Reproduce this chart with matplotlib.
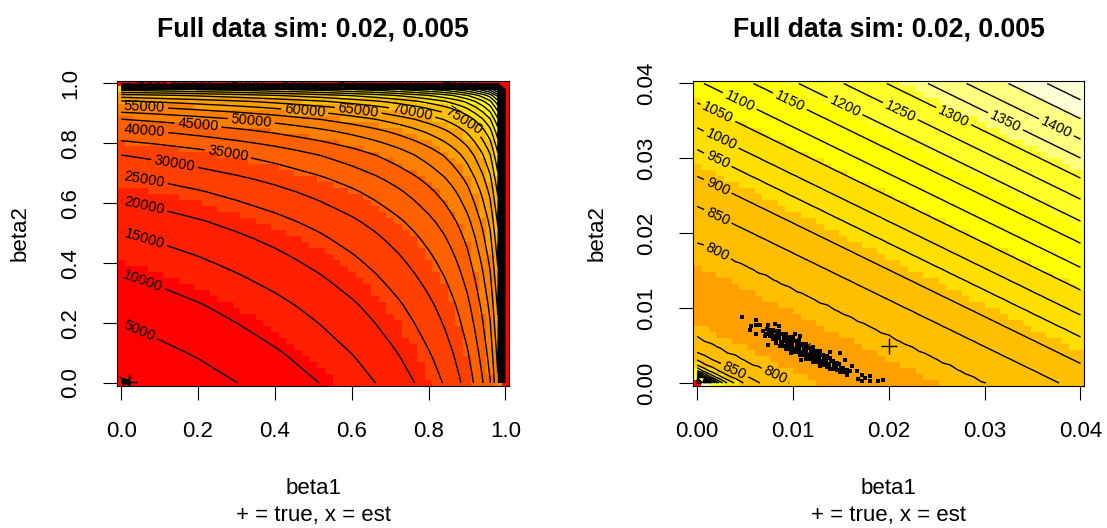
import numpy as np
import matplotlib
matplotlib.use("Agg")
import matplotlib.pyplot as plt
from matplotlib.colors import ListedColormap, BoundaryNorm

plt.rcParams['font.family'] = ['Liberation Sans', 'DejaVu Sans']

title = "Full data sim: 0.02, 0.005"
xlab = "beta1"
ylab = "beta2"
sub = "+ = true, x = est"
true_b = (0.02, 0.005)
est_b = (0.0112, 0.0046)

# R heat.colors(12)
heat12 = ['#FF0000', '#FF2000', '#FF4000', '#FF6000', '#FF8000', '#FF9F00',
          '#FFBF00', '#FFDF00', '#FFFF00', '#FFFF2A', '#FFFF80', '#FFFFD5']

# ---- left panel: full range, 51 x 51 grid
grid_full = np.linspace(0, 1, 51)
prof1_b = [0, 0.1, 0.2, 0.303, 0.4, 0.515, 0.6, 0.662, 0.715, 0.764, 0.80, 0.837,
           0.863, 0.885, 0.902, 0.917, 0.931, 0.942, 0.953, 0.961, 0.972, 0.98]
prof1_z = [0, 1460, 3090, 5000, 7080, 10000, 12690, 15000, 17400, 20000, 22300, 25000,
           27500, 30000, 32300, 35000, 37500, 40000, 42500, 45000, 50000, 54200]
# surface along beta2 (at beta1 = 0)
prof2_b = [0, 0.09, 0.174, 0.26, 0.342, 0.415, 0.483, 0.54, 0.592, 0.64, 0.681,
           0.734, 0.768, 0.81, 0.844, 0.877, 0.902, 0.922, 0.941, 0.96, 0.98]
prof2_z = [0, 2100, 4350, 6600, 9190, 11600, 14130, 16500, 19130, 21600, 24130,
           27940, 30500, 35000, 39130, 44240, 49500, 54140, 59500, 67600, 82000]
levels_full = np.arange(5000, 140000, 5000)

# ---- right panel: zoom 0..0.04, 51 x 51 grid
grid_zoom = np.linspace(0, 0.04, 51)
ridge_w = 1.6   # contours run parallel: beta1 + 1.6 * beta2 = const
prof_s = [0, 0.0008, 0.0016, 0.0024, 0.0032, 0.0045, 0.0065, 0.0095, 0.0125, 0.019,
          0.025, 0.0303, 0.0378, 0.0442, 0.0499, 0.0545, 0.0599, 0.0647, 0.0699,
          0.0746, 0.0793, 0.0838, 0.0881, 0.0921, 0.0965, 0.1005, 0.104]
prof_s_z = [0, 1580, 1250, 1080, 990, 910, 850, 800, 790, 778,
            790, 800, 850, 900, 950, 1000, 1050, 1100, 1150,
            1200, 1250, 1300, 1350, 1400, 1450, 1500, 1540]
levels_zoom = np.arange(50, 1600, 50)

# simulated estimates (beta1, beta2)
cloud = [
    (0.00722, 0.0066), (0.00730, 0.0072),
    (0.00757, 0.0063), (0.00750, 0.0067), (0.00765, 0.0071),
    (0.00792, 0.0059), (0.00800, 0.0063), (0.00785, 0.0067), (0.00795, 0.0071),
    (0.00827, 0.0054), (0.00820, 0.0059), (0.00835, 0.0064), (0.00825, 0.0069),
    (0.00862, 0.0050), (0.00870, 0.0055), (0.00855, 0.0060), (0.00866, 0.0065), (0.00858, 0.0069),
    (0.00896, 0.0050), (0.00890, 0.0055), (0.00905, 0.0060), (0.00893, 0.0065),
    (0.00931, 0.0046), (0.00938, 0.0051), (0.00925, 0.0056), (0.00935, 0.0061), (0.00928, 0.0066),
    (0.00966, 0.0046), (0.00960, 0.0051), (0.00972, 0.0056), (0.00963, 0.0061),
    (0.01001, 0.0041), (0.01008, 0.0046), (0.00995, 0.0051), (0.01004, 0.0056), (0.00998, 0.0061),
    (0.01036, 0.0041), (0.01030, 0.0046), (0.01043, 0.0051), (0.01033, 0.0056),
    (0.01071, 0.0037), (0.01078, 0.0042), (0.01065, 0.0047), (0.01074, 0.0052), (0.01068, 0.0057),
    (0.01106, 0.0037), (0.01100, 0.0042), (0.01112, 0.0047), (0.01103, 0.0052),
    (0.01141, 0.0032), (0.01148, 0.0037), (0.01135, 0.0042), (0.01144, 0.0047), (0.01138, 0.0052),
    (0.01176, 0.0032), (0.01170, 0.0037), (0.01183, 0.0042), (0.01173, 0.0047),
    (0.01211, 0.0028), (0.01218, 0.0033), (0.01205, 0.0038), (0.01214, 0.0043), (0.01208, 0.0048),
    (0.01245, 0.0028), (0.01240, 0.0033), (0.01252, 0.0038), (0.01243, 0.0043),
    (0.01280, 0.0023), (0.01287, 0.0028), (0.01274, 0.0033), (0.01283, 0.0038), (0.01277, 0.0043),
    (0.01315, 0.0024), (0.01310, 0.0029), (0.01322, 0.0034), (0.01312, 0.0038),
    (0.01350, 0.0021), (0.01357, 0.0026), (0.01344, 0.0031), (0.01353, 0.0036),
    (0.01385, 0.0019), (0.01380, 0.0024), (0.01392, 0.0029), (0.01382, 0.0034),
    (0.01420, 0.0019), (0.01427, 0.0024), (0.01414, 0.0029),
    (0.01455, 0.0017), (0.01450, 0.0022), (0.01462, 0.0027),
    (0.01490, 0.0015), (0.01497, 0.0020), (0.01484, 0.0025),
    (0.01525, 0.0015), (0.01520, 0.0020),
    (0.01560, 0.0013), (0.01567, 0.0018),
    (0.00471, 0.00882), (0.00610, 0.00846), (0.00565, 0.00766), (0.00617, 0.00779),
    (0.00659, 0.00770), (0.00547, 0.00712), (0.00610, 0.00654), (0.00687, 0.00690),
    (0.00704, 0.00623), (0.00739, 0.00779), (0.00809, 0.00793), (0.00855, 0.00757),
    (0.01019, 0.00659), (0.01071, 0.00623), (0.00739, 0.00512), (0.00984, 0.00400),
    (0.01088, 0.00311), (0.01280, 0.00222), (0.01385, 0.00409), (0.01490, 0.00400),
    (0.01542, 0.00311), (0.01612, 0.00222), (0.01664, 0.00155), (0.01717, 0.00110),
    (0.01682, 0.00057), (0.01752, 0.00066), (0.01804, 0.00088), (0.01717, 0.00021),
    (0.01804, 0.00021), (0.01891, 0.00021), (0.01944, 0.00034), (0.01560, 0.00110),
    (0.01595, 0.00155),
]
cloud_b1 = [p[0] for p in cloud]
cloud_b2 = [p[1] for p in cloud]

# build the surfaces
z_full = (np.interp(grid_full, prof2_b, prof2_z)[:, None]
          + np.interp(grid_full, prof1_b, prof1_z)[None, :])
z_full[-1, :] = 0   # border at beta = 1 is at the minimum (red)
z_full[:, -1] = 0
s_zoom = grid_zoom[None, :] + ridge_w * grid_zoom[:, None]
z_zoom = np.interp(s_zoom, prof_s, prof_s_z)

# label spots, like R's contour labels
lab_full = [(0.046, 0.174), (0.057, 0.342), (0.061, 0.483), (0.061, 0.592),
            (0.061, 0.681), (0.139, 0.734), (0.278, 0.768), (0.061, 0.844),
            (0.2, 0.863), (0.339, 0.877), (0.061, 0.922), (0.478, 0.911),
            (0.617, 0.911), (0.757, 0.902), (0.887, 0.868)]
top_row = z_full[-2]
for lev, x0 in zip([5000, 10000, 15000, 20000, 25000, 30000, 35000],
                   [0.076, 0.18, 0.321, 0.46, 0.598, 0.738, 0.877]):
    zr = np.interp(x0, grid_full, top_row)
    lab_full.append((x0, 0.98 + 0.02 * (1 - lev / zr)))
lab_zoom = [(0.00216, 0.0176), (0.00216, 0.02227), (0.00216, 0.02628),
            (0.00216, 0.02984), (0.00251, 0.03252), (0.00216, 0.03608),
            (0.00443, 0.03764), (0.00967, 0.03764), (0.01543, 0.03697),
            (0.02119, 0.0363), (0.02677, 0.03563), (0.03218, 0.03497),
            (0.03742, 0.03394), (0.00404, 0.002), (0.00806, 0.00088)]

W, H = 1107, 528
fig = plt.figure(figsize=(W / 100, H / 100), dpi=100)
ax1 = fig.add_axes([117.3 / W, 1 - 386 / H, 392 / W, 305.5 / H])
ax2 = fig.add_axes([693.3 / W, 1 - 386 / H, 391 / W, 305.5 / H])


def panel(ax, g, z, levels, labpos, ticks, tickfmt):
    breaks = np.linspace(z.min(), z.max(), 13)
    ax.pcolormesh(g, g, z, cmap=ListedColormap(heat12), norm=BoundaryNorm(breaks, 12),
                  shading='nearest', antialiased=False, linewidth=0)
    cs = ax.contour(g, g, z, levels=levels, colors='black', linewidths=1.0)
    ax.clabel(cs, fmt='%d', fontsize=10.5, inline=True, inline_spacing=3, manual=labpos)
    ax.plot(cloud_b1, cloud_b2, 's', color='black', ms=3.5, mew=0)
    ax.plot(true_b[0], true_b[1], '+', color='black', ms=11, mew=1)
    ax.plot(est_b[0], est_b[1], 'x', color='black', ms=8, mew=1)
    d = (g[1] - g[0]) / 2
    ax.set_xlim(g[0] - d, g[-1] + d)
    ax.set_ylim(g[0] - d, g[-1] + d)
    ax.set_xticks(ticks)
    ax.set_xticklabels([tickfmt % t for t in ticks])
    ax.set_yticks(ticks)
    ax.set_yticklabels([tickfmt % t for t in ticks], rotation=90, va='center')
    ax.tick_params(direction='out', length=10, width=0.8, labelsize=16, colors='black')
    ax.tick_params(axis='x', pad=15)
    ax.tick_params(axis='y', pad=16)
    for sp in ax.spines.values():
        sp.set_linewidth(0.8)
    ax.set_title(title, fontsize=19.2, fontweight='bold', pad=32)


panel(ax1, grid_full, z_full, levels_full, lab_full, [0, 0.2, 0.4, 0.6, 0.8, 1.0], '%.1f')
panel(ax2, grid_zoom, z_zoom, levels_zoom, lab_zoom, [0, 0.01, 0.02, 0.03, 0.04], '%.2f')

for cx, yx in [(313.3, 20), (888.8, 597)]:
    fig.text(cx / W, 1 - 494 / H, xlab, ha='center', va='baseline', fontsize=16)
    fig.text(cx / W, 1 - 521.5 / H, sub, ha='center', va='baseline', fontsize=16)
    fig.text(yx / W, 1 - 233 / H, ylab, rotation=90, ha='center', va='center', fontsize=16)

fig.savefig("out.png", dpi=100)
